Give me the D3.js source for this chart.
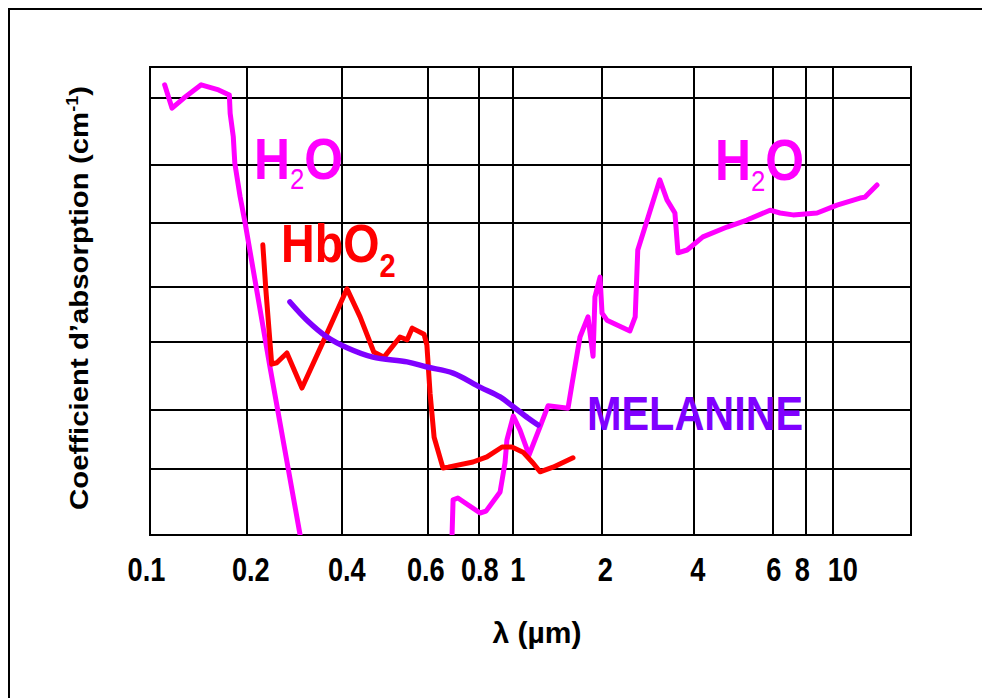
<!DOCTYPE html>
<html>
<head>
<meta charset="utf-8">
<script src="https://cdn.jsdelivr.net/npm/d3@7/dist/d3.min.js"></script>
<style>
  body { margin: 0; background: #fff; }
  svg { display: block; }
  text { font-family: "Liberation Sans", Arial, sans-serif; }
</style>
</head>
<body>
<svg id="chart" width="982" height="698"></svg>
<script>
// Wavelength ticks (µm) on the logarithmic axis
const xTicks = [0.1, 0.2, 0.4, 0.6, 0.8, 1, 2, 4, 6, 8, 10];
const xTickLabels = ["0.1", "0.2", "0.4", "0.6", "0.8", "1", "2", "4", "6", "8", "10"];
const xMax = 17.5;

// Relative absorption levels of the horizontal grid (0 = bottom, 100 = top)
const yGrid = [14.1, 26.7, 41.2, 53.0, 66.7, 79.1, 93.4];

// Water: UV part, then infrared part (null splits the two branches)
const h2oLambda = [0.111, 0.117, 0.127, 0.144, 0.163, 0.176, 0.177, 0.181, 0.183, 0.190, 0.197, 0.236, 0.294,
  null,
  0.686, 0.690, 0.709, 0.804, 0.836, 0.917, 0.947, 0.959, 1.0, 1.054, 1.131, 1.233, 1.313, 1.536, 1.585,
  1.687, 1.796, 1.869, 1.897, 1.974, 2.005, 2.08, 2.47, 2.57, 2.62, 2.83, 3.09, 3.26, 3.46, 3.54, 3.79,
  4.18, 4.73, 5.24, 5.90, 6.37, 7.15, 8.77, 10.27, 12.12, 12.57, 13.70];
const h2oValue = [96.2, 91.2, 93.3, 96.2, 95.1, 94.0, 90.1, 85.1, 79.4, 72.3, 66.6, 35.9, 0,
  null,
  0, 7.5, 7.9, 4.7, 5.1, 9.2, 15.4, 20.3, 25.4, 22.4, 17.1, 23.1, 27.6, 27.1, 32.3,
  42.3, 46.6, 38.2, 50.9, 55.1, 47.4, 45.9, 43.6, 46.6, 60.9, 67.9, 75.9, 71.6, 68.8, 60.3, 60.9,
  63.7, 65.8, 67.3, 69.4, 68.8, 68.4, 68.8, 70.5, 72.0, 72.2, 74.8];

// Oxyhaemoglobin
const hbo2Lambda = [0.224, 0.229, 0.239, 0.248, 0.267, 0.298, 0.350, 0.409, 0.435, 0.464, 0.487, 0.525,
  0.543, 0.556, 0.588, 0.596, 0.606, 0.620, 0.652, 0.671, 0.772, 0.841, 0.929, 0.991, 1.079, 1.167,
  1.233, 1.365, 1.597];
const hbo2Value = [62.0, 52.4, 36.5, 36.8, 38.9, 31.4, 41.7, 52.6, 46.6, 39.1, 38.0, 42.3,
  41.7, 44.2, 42.9, 40.6, 30.3, 20.9, 14.3, 14.5, 15.6, 16.7, 18.8, 18.8, 17.7, 15.4,
  13.5, 14.5, 16.5];

// Melanin
const melLambda = [0.273, 0.309, 0.358, 0.409, 0.462, 0.543, 0.596, 0.690, 0.804, 0.917, 1.0, 1.122, 1.214];
const melValue = [49.8, 45.9, 42.3, 40.0, 38.0, 37.0, 35.9, 34.6, 31.6, 29.5, 27.4, 25.0, 23.5];

const svg = d3.select("#chart");

// Plot frame
const plotLeft = 150, plotRight = 911, plotTop = 67, plotBottom = 535;

// The printed log grid is slightly irregular, so the log scale is piecewise
const x = d3.scaleLog()
  .domain([...xTicks, xMax])
  .range([150, 247.3, 342.3, 428.3, 479.3, 513.3, 601.7, 694.3, 773.3, 805.7, 833.3, 911]);
const y = d3.scaleLinear().domain([0, 100]).range([plotBottom, plotTop]);

const pairs = (xs, ys) => xs.map((d, i) => (d == null ? null : [d, ys[i]]));

// Outer page border
svg.append("rect")
  .attr("x", 9).attr("y", 9).attr("width", 1200).attr("height", 1200)
  .attr("fill", "none").attr("stroke", "#000").attr("stroke-width", 2);

// Grid
const grid = svg.append("g").attr("stroke", "#000").attr("stroke-width", 2).attr("shape-rendering", "crispEdges");
grid.selectAll("line.v").data(xTicks.slice(1)).join("line").attr("class", "v")
  .attr("x1", d => Math.round(x(d))).attr("x2", d => Math.round(x(d)))
  .attr("y1", plotTop).attr("y2", plotBottom);
grid.selectAll("line.h").data(yGrid).join("line").attr("class", "h")
  .attr("x1", plotLeft).attr("x2", plotRight)
  .attr("y1", d => Math.round(y(d))).attr("y2", d => Math.round(y(d)));
grid.append("rect")
  .attr("x", plotLeft).attr("y", plotTop).attr("width", plotRight - plotLeft).attr("height", plotBottom - plotTop)
  .attr("fill", "none");

// X tick labels (tall, narrow bold figures), a few nudged sideways as printed
const labelNudge = { 0.1: -4, 0.2: 3, 0.4: 4, 0.6: -3, 1: 4, 2: 3, 4: 3, 8: -4, 10: 9 };
const xAxis = d3.axisBottom(x).tickValues(xTicks).tickFormat((d, i) => xTickLabels[i]).tickSize(0).tickPadding(0);
const gx = svg.append("g").attr("transform", `translate(0,${plotBottom + 46})`).call(xAxis);
gx.select(".domain").remove();
gx.selectAll("text")
  .attr("dy", 0)
  .attr("transform", d => `translate(${labelNudge[d] || 0},0) scale(0.8,1)`)
  .style("font-family", '"Liberation Sans", Arial, sans-serif')
  .style("font-weight", "bold").style("font-size", "34px").attr("fill", "#000");

// Curves
svg.append("clipPath").attr("id", "plotClip")
  .append("rect").attr("x", plotLeft).attr("y", plotTop).attr("width", plotRight - plotLeft).attr("height", plotBottom - plotTop);

const line = d3.line().defined(d => d != null).x(d => x(d[0])).y(d => y(d[1]));
const smooth = d3.line().x(d => x(d[0])).y(d => y(d[1])).curve(d3.curveCatmullRom);

const curves = svg.append("g").attr("clip-path", "url(#plotClip)")
  .attr("fill", "none").attr("stroke-linejoin", "round").attr("stroke-linecap", "round");
curves.append("path").datum(pairs(h2oLambda, h2oValue))
  .attr("d", line).attr("stroke", "#ff00ff").attr("stroke-width", 5);
curves.append("path").datum(pairs(hbo2Lambda, hbo2Value))
  .attr("d", line).attr("stroke", "#ff0000").attr("stroke-width", 5);
curves.append("path").datum(pairs(melLambda, melValue))
  .attr("d", smooth).attr("stroke", "#8000ff").attr("stroke-width", 5.5);

// Curve labels
function chem(tx, ty, sx, main, sub, rest, size, subSize, subDy, subWeight, color) {
  const t = svg.append("text")
    .attr("transform", `translate(${tx},${ty}) scale(${sx},1)`)
    .attr("fill", color).style("font-weight", "bold").style("font-size", size + "px");
  t.append("tspan").text(main);
  if (sub) t.append("tspan").attr("dy", subDy).style("font-size", subSize + "px")
    .style("font-weight", subWeight).text(sub);
  if (rest) t.append("tspan").attr("dy", -subDy).text(rest);
  return t;
}
chem(254, 179, 0.86, "H", "2", "O", 58, 30, 10, "normal", "#ff00ff");
chem(715, 180, 0.86, "H", "2", "O", 58, 30, 11, "normal", "#ff00ff");
chem(281, 262, 0.88, "HbO", "2", null, 53, 33, 15, "bold", "#ff0000");
chem(587, 430, 0.845, "MELANINE", null, null, 49, 0, 0, "bold", "#8000ff");

// Axis titles
svg.append("text")
  .attr("x", 537).attr("y", 643).attr("text-anchor", "middle")
  .style("font-weight", "bold").style("font-size", "30px").attr("fill", "#000")
  .text("λ (µm)");

const yt = svg.append("text")
  .attr("transform", "translate(88,298) rotate(-90) scale(1.13,1)")
  .attr("text-anchor", "middle")
  .style("font-weight", "bold").style("font-size", "26px").attr("fill", "#000");
yt.append("tspan").text("Coefficient d\u2019absorption (cm");
yt.append("tspan").attr("dy", -10).style("font-size", "16px").text("-1");
yt.append("tspan").attr("dy", 10).text(")");
</script>
</body>
</html>
